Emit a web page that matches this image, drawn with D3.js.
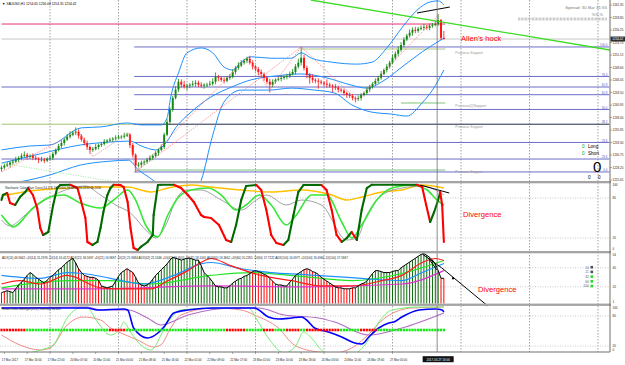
<!DOCTYPE html>
<html>
<head>
<meta charset="utf-8">
<script src="https://cdnjs.cloudflare.com/ajax/libs/d3/7.8.5/d3.min.js"></script>
<style>
body { margin: 0; background: #fff; }
svg { display: block; }
</style>
</head>
<body>
<script>
// ---- price data (XAUUSD H1) ----
var firstOpen = 1227.9;
var closes = [
  1228.2,1228.6,1228.8,1229.2,1229.4,1229.8,1230.2,1230.6,1230.8,1230.4,
  1230.6,1230.2,1230.0,1229.8,1229.8,1229.6,1230.0,1230.2,1231.0,1231.8,
  1232.6,1233.2,1233.9,1234.5,1234.9,1235.3,1235.5,1234.7,1233.9,1233.2,
  1232.4,1231.8,1232.0,1232.4,1232.8,1233.0,1233.5,1233.7,1233.9,1234.1,
  1234.3,1234.5,1234.5,1234.7,1234.9,1232.8,1230.8,1228.6,1228.8,1229.2,
  1229.4,1229.8,1230.2,1230.6,1231.2,1231.8,1232.4,1234.9,1237.5,1240.0,
  1242.4,1244.1,1245.7,1245.1,1244.7,1244.9,1245.1,1245.3,1245.5,1245.1,
  1244.9,1245.1,1245.1,1245.3,1245.7,1246.7,1246.5,1246.1,1245.9,1246.5,
  1246.7,1247.7,1248.5,1249.0,1249.6,1250.0,1250.4,1249.6,1248.8,1248.3,
  1247.7,1247.3,1246.5,1245.7,1245.1,1245.7,1246.1,1246.3,1246.5,1246.7,
  1246.9,1247.3,1247.7,1248.8,1249.6,1250.6,1248.5,1247.1,1246.5,1246.1,
  1245.9,1245.7,1245.5,1245.3,1245.1,1244.9,1244.7,1244.5,1244.1,1243.9,
  1243.4,1243.0,1242.8,1242.4,1242.2,1242.4,1243.0,1243.4,1244.1,1244.7,
  1245.3,1245.9,1246.5,1247.3,1248.1,1248.8,1249.6,1250.6,1251.4,1252.2,
  1253.2,1254.3,1255.1,1255.7,1256.3,1256.1,1256.5,1256.7,1256.9,1256.7,
  1257.1,1257.3,1257.5,1258.3,1254.65,1254.42
];
var wickUp = [
  .4,.3,.5,.3,.4,.6,.3,.5,.7,.4, .3,.5,.4,.3,.6,.4,.3,.5,.4,.3,
  .4,.6,.3,.5,.7,.4,.9,.5,.3,.4, .5,.3,.4,.6,.3,.4,.5,.3,.4,.3,
  .5,.4,.3,.6,.4,.3,.4,.3,.5,.4, .3,.4,.5,.3,.4,.3,.5,.4,.6,.5,
  .4,.7,.6,.5,.8,.4,.3,.6,.5,.4, .5,.3,.4,.6,.7,.9,.4,.3,.5,.4,
  .6,.5,.4,.7,.5,.4,.4,.6,.5,.3, .4,.5,.3,.4,.6,.5,.3,.4,.5,.3,
  .4,.5,.6,.5,.8,2.2,.6,.5,.4,.7, .3,.5,.4,.3,.9,.4,.3,.5,.4,.3,
  .4,.3,.5,.4,.3,.5,.4,.3,.5,.4, .3,.5,.4,.6,.3,.5,.4,.6,.5,.7,
  .6,.5,.4,.7,.5,.6,.4,.5,.6,.4, .5,.4,.6,1.2,.2,1.43
];
var wickDn = [
  .5,.4,.3,.6,.4,.3,.5,.4,.3,.6, .4,.5,.3,.7,.4,.5,.3,.4,.5,.3,
  .3,.4,.5,.3,.4,.3,.5,.6,.4,.5, .6,.8,.4,.3,.5,.4,.3,.4,.3,.5,
  .4,.3,.5,.4,.3,.6,.5,1.3,.4,.6, .5,.4,.3,.5,.4,.6,.3,.4,.3,.5,
  .4,.3,.5,.6,.4,.7,.5,.4,.6,.5, .4,.6,.5,.3,.4,.5,.7,.4,.5,.3,
  .4,.3,.5,.4,.3,.4,.5,.4,.6,.5, .7,.5,.6,.4,1.6,.5,.4,.3,.5,.4,
  .5,.4,.3,.5,.4,.6,.5,.7,1.2,.6, .5,1.4,.4,.5,.6,.4,1.1,.5,.6,.4,
  .5,.6,.4,.5,.7,.4,.5,.3,.4,.5, .4,.3,.5,.4,.3,.5,.4,.3,.4,.5,
  .4,.5,.3,.4,.6,.5,.4,.3,.5,.4, .5,.4,.3,.4,.45,.07
];

// Bollinger bands [bar, price]
var bbUpper = [[0,1231.8],[10,1232.6],[17,1232.8],[28,1236.3],[35,1236.5],[44,1237.3],[49,1236.9],[56,1236.9],[58,1238.3],[59.3,1242.6],[62,1247.5],[65,1251.6],[70,1252.6],[74,1251.6],[78,1248.7],[81,1248.1],[84,1249.7],[87.5,1250.8],[94.5,1250.5],[101.6,1250.5],[105,1251.6],[108.6,1250.5],[115.7,1249.7],[124.5,1249.3],[129.8,1249.7],[135,1252.6],[140.3,1256.7],[145.6,1260.3],[150.2,1262.0],[153,1262.2],[155,1261.4]];
var bbMiddle = [[0,1229.1],[13.6,1231.0],[27.6,1232.8],[38,1233.4],[45,1233.6],[49,1232.6],[54,1231.8],[57.6,1233.2],[61,1236.3],[66.4,1239.5],[73.4,1242.6],[80.5,1244.6],[87.5,1246.1],[96.3,1246.9],[105,1247.3],[113.9,1246.5],[122.7,1245.0],[128,1244.4],[133.3,1245.7],[140.3,1248.7],[147.4,1251.8],[155,1254.6]];
var bbLower = [[0,1224.6],[10,1225.7],[17,1226.7],[27.6,1228.7],[38,1229.5],[44.5,1229.7],[48,1227.7],[52,1226.1],[57.6,1223.6],[63,1221.6],[67,1222.0],[70,1225.6],[74,1234.8],[78,1241.6],[84,1244.0],[93.5,1244.0],[101.6,1244.4],[109.7,1244.0],[116.7,1243.4],[122.7,1241.0],[129.8,1239.5],[136.8,1239.1],[142,1238.7],[147.4,1241.4],[151,1244.0],[155,1248.1]];

// zigzag turning points [bar, price]
var zigzag = [[0,1227.3],[27,1235.7],[32,1230.4],[44.5,1235.3],[47,1227.3],[86.4,1250.8],[93.8,1244.0],[105,1252.8],[124.5,1242.0],[153.4,1259.5]];
var zigzagLong = [[47,1227.3],[105,1252.8]];
var greenDotted = [[0,1229.1],[47,1224.6]];

// levels
var fibPct = [100.0, 76.4, 61.8, 50.0, 38.2, 23.6, 0.0];
var fibRange = [1227.3, 1252.8];
var fibStartBar = 46.5;
var extraLevels = [1244.63, 1229.94];
var extraLabels = ["61.8", "23.6"];
var pinkLevel = 1257.48;
var bidPrice = 1254.42;
var oliveTop = [105, 155.5, 1252.38];
var greenLevels = [[140, 155.5, 1241.37], [47, 155.5, 1227.7]];
var supportTexts = ["Previous Support", "Previous(2)Support", "Previous Support", "Previous Support"];
var supportPrices = [1251.5, 1240.7, 1236.4, 1227.2];
var greenTrend = [[108.4, 1262.38], [213.2, 1252.18]];
var blackTrend = [[145.6, 1259.73], [157.1, 1260.95]];
var priceTicks = [1261.35,1258.80,1256.25,1253.70,1251.15,1248.60,1246.05,1243.50,1240.95,1238.40,1235.85,1233.30,1230.75,1228.20,1225.65];

// stochastic panel [bar, value]
var stochMain = [[0,77],[0.5,84.5],[2,87.5],[3,72.5],[4.8,69.5],[6.5,81.5],[8.3,89],[9.3,95],[11,84.5],[12.5,65],[13.6,35],[14.6,24.5],[16.4,29],[18.1,69.5],[19.5,95],[20.6,99.5],[24.1,100],[26.6,95],[27.6,80],[29.4,50],[30.1,14],[31.9,9.5],[33.6,14],[34.7,35],[35.7,59],[37.1,84.5],[38.2,95],[39.3,100],[41.7,99.5],[42.8,96.5],[44.2,74],[45.2,35],[46.3,5],[47.7,2],[48.8,6.5],[51.2,14],[53,24.5],[53.3,54.5],[54.8,99.5],[55.8,100],[60.4,100],[62.9,95],[65.3,84.5],[67.4,74],[69.9,54.5],[71,51.5],[73.4,50],[76.2,39.5],[78.7,17],[80.5,14],[82.2,39.5],[84,77],[85.7,98],[89.3,99.5],[91,92],[92.8,62],[94.5,24.5],[96.3,12.5],[98.8,9.5],[100.5,17],[102.3,54.5],[104,89],[105.8,99.5],[112.1,99.5],[113.9,92],[115.7,62],[117.4,24.5],[119.2,14],[121,20],[122.7,29],[124.5,17],[126.2,62],[128,95],[129.8,100],[145.6,100],[147.4,96.5],[148.8,69.5],[150.2,44],[151.6,59],[153,77],[153.7,89],[154.4,69.5],[155,14]];
var stochSlow = [[0,54.5],[3,39.5],[4,36.5],[11,65],[17,81.5],[21.7,84.5],[27.6,72.5],[34.7,65],[39.3,77],[44.2,92],[47,77],[50.5,39.5],[54.8,21.5],[58.3,54.5],[61.8,80],[66.4,92],[72.4,95],[77,84.5],[82.2,62],[85.7,69.5],[90.3,84.5],[94.5,69.5],[99.8,39.5],[103.3,54.5],[108.6,84.5],[113.9,84.5],[119.2,44],[122.7,20],[126.2,39.5],[131.5,77],[136.8,95],[143.8,99.5],[149.1,92],[152.6,77],[155,69.5]];
var stochGrey = [[0,47],[3,38],[8.3,54.5],[15.3,77],[22.4,92],[29.4,98],[34.7,84.5],[40,69.5],[45.2,57.5],[51.2,29],[54,20],[57.6,39.5],[61.1,77],[64.6,92],[69.9,92],[77,77],[84,62],[89.3,77],[92.8,84.5],[99.8,69.5],[105.1,77],[112.1,69.5],[121,17],[124.5,20],[128,54.5],[133.3,84.5],[140.3,95],[147.4,98],[155,84.5]];
var stochYellow = [[0,83],[10,90.5],[24,95],[34.7,96.5],[44.2,96.5],[52.3,89],[58.3,95],[66.4,99.5],[73.4,96.5],[84,92],[94.5,89],[105.1,92],[115.7,84.5],[121,77],[126.2,81.5],[133.3,89],[140.3,92],[147.4,99.5],[155,95]];
var stochDivergence = [[146.7, 99.5], [156.9, 87.5]];

// ADX histogram panel
var adx = [
  14,15,16,15,14,18,22,25,28,32, 35,33,30,28,26,24,27,30,32,35,
  38,40,43,46,48,50,45,39,35,32, 31,30,30,29,27,21,20,19,20,21,
  26,31,35,37,39,37,35,30,24,22, 21,22,24,28,32,35,38,41,44,48,
  51,50,49,48,49,50,50,49,48,48, 42,35,32,29,25,21,20,20,19,19,
  21,24,26,28,29,31,32,34,36,37, 36,35,33,32,29,26,23,22,22,21,
  21,25,28,32,34,36,38,39,38,36, 35,33,30,28,26,24,22,20,19,19,
  18,18,18,19,19,21,23,24,26,30, 34,37,37,36,35,35,35,36,37,37,
  40,42,44,46,48,50,52,54,55,53, 51,48,44,37,29,29
];
var adxRedRanges = [[0,1],[15,17],[27,35],[44,50],[88,95],[106,124],[154,155]];
var adxBlue = [[0,32],[6.5,30],[13.6,29],[23,35],[28.7,34],[38.2,29],[49.8,23],[60.4,32],[69.9,44],[73.4,45.5],[84,39],[94.5,35],[105,33],[115.7,31],[126.2,29],[140.3,26.5],[147.4,35],[155,44.5]];
var adxRed = [[0,23],[6.5,26.5],[13.6,23],[23,32],[34.7,19],[40.7,18],[52.3,18],[58.3,26.5],[65.3,37],[69.9,45.5],[73.4,49.7],[80.5,42],[91,32],[101.6,26.5],[112.1,21],[122.7,21],[133.3,26.5],[140.3,32],[147.4,45.5],[152,49.7],[155,47.6]];
var adxLime = [[0,19],[23,26.5],[38.2,26.5],[52.3,23],[73.4,32],[87.5,35],[105,31],[122.7,26.5],[140.3,34],[155,47.6]];
var adxMagenta = [[0,18],[34.7,18],[73.4,21],[105,20],[140.3,23],[155,37]];
var adxDivergence = [[147.4,54.5],[154.2,40],[170,1]];
var adxInner = [[149.6,50],[152.6,37.5]];
var adxDots = [[158.2,29],[170,1]];
var legendPeriods = ["14", "21", "42", "60", "100"];

// bottom oscillator panel
var oscBlue = [[0,96],[30.1,96],[33.6,92],[42.8,94],[44.2,92],[46.3,56],[51.2,36],[54.8,46],[56.9,58],[60.4,86],[65.3,92],[74.5,96],[88.6,96],[93.5,78],[97,74],[101.6,76],[105.1,78],[106.9,72],[109.7,56],[114.6,48],[119.2,38],[123.8,26],[126.2,24],[128.7,38],[132.2,56],[135.7,66],[137.5,68],[140.3,78],[146.3,92],[152,94],[154.4,92],[155,88]];
var oscPurple = [[0,96],[30.1,98],[34.7,92],[44.2,92],[51.2,76],[55.8,62],[65.3,82],[81.5,96],[90,96],[99.1,82],[111.1,76],[116.7,68],[128.7,42],[140.3,56],[155,86]];
var oscGreen = [[0,8],[4,2],[13.6,12],[18.1,22],[23,76],[27.6,96],[30.1,96],[33.6,68],[38.2,42],[41.7,56],[42.8,68],[45.2,48],[48.8,22],[52.3,12],[58.3,68],[62.9,92],[75.9,96],[86.4,96],[90,68],[93.5,36],[99.1,6],[103.3,22],[105.8,48],[108.6,36],[112.1,12],[116.7,0],[122.7,2],[127.3,22],[132.2,68],[136.8,92],[146.3,98],[155,98]];
var oscPink = [[0,42],[6.5,22],[13.6,12],[17.1,16],[23,62],[28.7,78],[34.7,72],[38.2,56],[43.5,42],[47.7,32],[53.3,18],[55.8,22],[59.3,56],[62.9,82],[74.5,96],[84,92],[88.6,82],[97,56],[102.6,22],[111.1,8],[116.7,6],[122.7,16],[127.3,36],[134.3,76],[143.8,96],[155,98]];
var oscDotLevel = 52;
var oscRedRanges = [[0,8],[38,43],[79,85],[92,95],[100,104],[107,118],[126,131]];

var timeLabels = ["17 Mar 2017","17 Mar 16:00","17 Mar 22:00","20 Mar 07:00","20 Mar 15:00","21 Mar 00:00","21 Mar 08:00","21 Mar 16:00","22 Mar 01:00","22 Mar 09:00","22 Mar 17:00","23 Mar 02:00","23 Mar 10:00","23 Mar 18:00","24 Mar 03:00","24 Mar 11:00","24 Mar 19:00","27 Mar 05:00"];
var cursorBar = 153;
var cursorLabel = "2017.03.27 16:00";
var gridBars = [17, 41, 65, 89, 113, 137, 161, 185, 209];

// ---- layout ----
var W = 625, H = 365, R = 610;
var FONT = "Liberation Sans, Arial, sans-serif";
var bull = "#128512", bear = "#ff1010";

var x = d3.scaleLinear().domain([0, 213]).range([1.5, 609.4]);
var yMain = d3.scaleLinear().domain([1225.66, 1262.38]).range([180, 0]);
var yStoch = d3.scaleLinear().domain([0, 100]).range([251.3, 184.7]);
var yAdx = d3.scaleLinear().domain([0, 54]).range([306, 254.4]);
var yOsc = d3.scaleLinear().domain([0, 100]).range([356, 306]);

var panels = { main: [0, 181], stoch: [183.3, 251], adx: [253.3, 303.6], osc: [305.9, 352] };

var svg = d3.select("body")
    .append("svg")
    .attr("width", W)
    .attr("height", H);

svg.append("rect").attr("width", W).attr("height", H).attr("fill", "#fff");

var defs = svg.append("defs");
Object.keys(panels).forEach(function (k) {
    defs.append("clipPath").attr("id", "clip-" + k)
        .append("rect")
        .attr("x", 0).attr("y", panels[k][0])
        .attr("width", R).attr("height", panels[k][1] - panels[k][0]);
});

function label(g, px, py, str, size, color, anchor) {
    return g.append("text")
        .attr("transform", `translate(${px},${py}) scale(${size / 10})`)
        .attr("font-size", 10)
        .attr("font-family", FONT)
        .attr("fill", color)
        .attr("text-anchor", anchor || "start")
        .text(str);
}

function pairLine(yScale, curve) {
    var l = d3.line().x(d => x(d[0])).y(d => yScale(d[1]));
    if (curve) l.curve(curve);
    return l;
}

function inRanges(i, ranges) {
    return ranges.some(r => i >= r[0] && i <= r[1]);
}

// vertical grid
svg.append("g").selectAll("line").data(gridBars).enter().append("line")
    .attr("x1", d => x(d)).attr("x2", d => x(d))
    .attr("y1", 0).attr("y2", 352)
    .attr("stroke", "#8c8c8c").attr("stroke-width", 0.8)
    .attr("stroke-dasharray", "1.5,1.5");

// ---- main panel ----
var main = svg.append("g").attr("clip-path", "url(#clip-main)");

function hLevel(g, p, b0, b1, color, w) {
    g.append("line")
        .attr("x1", x(b0)).attr("x2", x(b1))
        .attr("y1", yMain(p)).attr("y2", yMain(p))
        .attr("stroke", color).attr("stroke-width", w || 1);
}

hLevel(main, pinkLevel, 0, 155.5, "#e8307a", 1);
hLevel(main, bidPrice, 0, 213, "#b8b8b8", 0.8);
hLevel(main, fibRange[0] + 0.382 * (fibRange[1] - fibRange[0]), 0, fibStartBar, "#a8c070", 1);
extraLevels.forEach(p => hLevel(main, p, 0, 213, "#6c6cc8", 1));
hLevel(main, oliveTop[2], oliveTop[0], oliveTop[1], "#b0c880", 1);
greenLevels.forEach(l => hLevel(main, l[2], l[0], l[1], "#7cc47c", 1));
fibPct.forEach(function (pct) {
    var p = fibRange[0] + pct / 100 * (fibRange[1] - fibRange[0]);
    hLevel(main, p, fibStartBar, 213, pct === 38.2 ? "#242a48" : "#6c6cc8", 1);
});

// bollinger bands
[bbUpper, bbMiddle, bbLower].forEach(function (band) {
    main.append("path").datum(band)
        .attr("d", pairLine(yMain, d3.curveMonotoneX))
        .attr("fill", "none").attr("stroke", "#1e90ff").attr("stroke-width", 1);
});

main.append("path").datum(greenDotted)
    .attr("d", pairLine(yMain))
    .attr("fill", "none").attr("stroke", "#8ee88e").attr("stroke-width", 0.9)
    .attr("stroke-dasharray", "1,1.5");

// candles
var bars = closes.map(function (c, i) {
    var o = i === 0 ? firstOpen : closes[i - 1];
    return { i: i, o: o, c: c, h: Math.max(o, c) + wickUp[i], l: Math.min(o, c) - wickDn[i] };
});

main.append("g").selectAll("line").data(bars).enter().append("line")
    .attr("x1", d => x(d.i)).attr("x2", d => x(d.i))
    .attr("y1", d => yMain(d.h)).attr("y2", d => yMain(d.l))
    .attr("stroke", d => d.c >= d.o ? bull : bear)
    .attr("stroke-width", 0.8);

main.append("g").selectAll("rect").data(bars).enter().append("rect")
    .attr("x", d => x(d.i) - 0.95)
    .attr("width", 1.9)
    .attr("y", d => yMain(Math.max(d.o, d.c)))
    .attr("height", d => Math.max(0.8, Math.abs(yMain(d.o) - yMain(d.c))))
    .attr("fill", d => d.c >= d.o ? bull : bear);

[zigzag, zigzagLong].forEach(function (z) {
    main.append("path").datum(z)
        .attr("d", pairLine(yMain))
        .attr("fill", "none").attr("stroke", "#ff7070").attr("stroke-width", 0.8)
        .attr("stroke-dasharray", "1.2,1.2");
});

main.append("path").datum(greenTrend)
    .attr("d", pairLine(yMain))
    .attr("stroke", "#3ddc26").attr("stroke-width", 1.3).attr("fill", "none");
main.append("path").datum(blackTrend)
    .attr("d", pairLine(yMain))
    .attr("stroke", "#000").attr("stroke-width", 1).attr("fill", "none");

// fib labels
fibPct.forEach(function (pct) {
    var p = fibRange[0] + pct / 100 * (fibRange[1] - fibRange[0]);
    label(svg, 607.5, yMain(p) - 0.8, pct.toFixed(1), 3, "#5a5ab8", "end");
});
extraLevels.forEach(function (p, i) {
    label(svg, 607.5, yMain(p) - 0.8, extraLabels[i], 3, "#5a5ab8", "end");
});

supportTexts.forEach(function (t, i) {
    label(svg, x(159), yMain(supportPrices[i]) + 1, t, 3.6, "#9a9a9a");
});

label(svg, 2, 5, "\u25BC XAUUSD,H1  1254.65 1256.08 1254.35 1254.42", 3.3, "#000");
label(svg, 607, 8.5, "Spread: 30    Bar 31:55", 4.4, "#7a7a7a", "end");
label(svg, 603, 15.5, "%% %", 3.8, "#7a7a7a", "end");
svg.append("line")
    .attr("x1", 518).attr("x2", 607).attr("y1", 19).attr("y2", 19)
    .attr("stroke", "#b4b4b4").attr("stroke-width", 3)
    .attr("stroke-dasharray", "0.7,0.7");

label(svg, 461, 40.5, "Allen's hock", 7.6, "#ff0000");

label(svg, 582, 147.5, "0", 4.6, "#0a9a0a");
label(svg, 588, 147.5, "Long", 4.6, "#000");
label(svg, 582, 154.5, "0", 4.6, "#0a9a0a");
label(svg, 588, 154.5, "Short", 4.6, "#000");
label(svg, 593, 172, "0", 15, "#000");
label(svg, 588, 178.5, "0", 4.6, "#000");
label(svg, 598, 178.5, "0", 4.6, "#000");

// ---- stochastic panel ----
var st = svg.append("g").attr("clip-path", "url(#clip-stoch)");
[80, 20].forEach(v => st.append("line")
    .attr("x1", 0).attr("x2", R).attr("y1", yStoch(v)).attr("y2", yStoch(v))
    .attr("stroke", "#bdbdbd").attr("stroke-width", 0.8).attr("stroke-dasharray", "1,1.5"));

st.append("path").datum(stochYellow).attr("d", pairLine(yStoch, d3.curveMonotoneX))
    .attr("fill", "none").attr("stroke", "#ffc000").attr("stroke-width", 1.4);
st.append("path").datum(stochGrey).attr("d", pairLine(yStoch, d3.curveMonotoneX))
    .attr("fill", "none").attr("stroke", "#8a8a8a").attr("stroke-width", 0.8);
st.append("path").datum(stochSlow).attr("d", pairLine(yStoch, d3.curveMonotoneX))
    .attr("fill", "none").attr("stroke", "#35e835").attr("stroke-width", 1.6);

var kSegs = d3.pairs(stochMain);
var lastUp = true;
kSegs.forEach(function (s) {
    if (s[1][1] > s[0][1]) lastUp = true;
    else if (s[1][1] < s[0][1]) lastUp = false;
    st.append("line")
        .attr("x1", x(s[0][0])).attr("y1", yStoch(Math.min(100, s[0][1])))
        .attr("x2", x(s[1][0])).attr("y2", yStoch(Math.min(100, s[1][1])))
        .attr("stroke", lastUp ? "#006a00" : "#ff0000")
        .attr("stroke-width", 2.1).attr("stroke-linecap", "round");
});

st.append("path").datum(stochDivergence).attr("d", pairLine(yStoch))
    .attr("stroke", "#000").attr("stroke-width", 1).attr("fill", "none");

label(svg, 5, 189, "Stochastic Color Rain Cross(14,3,3) 100.0000 99.6935 96.2630 86.2630", 3, "#222");
label(svg, 463, 217, "Divergence", 7.6, "#ff0000");

// ---- ADX panel ----
var ad = svg.append("g").attr("clip-path", "url(#clip-adx)");
[40, 20].forEach(v => ad.append("line")
    .attr("x1", 0).attr("x2", R).attr("y1", yAdx(v)).attr("y2", yAdx(v))
    .attr("stroke", "#bdbdbd").attr("stroke-width", 0.8).attr("stroke-dasharray", "1,1.5"));

ad.append("g").selectAll("line").data(adx).enter().append("line")
    .attr("x1", (d, i) => x(i)).attr("x2", (d, i) => x(i))
    .attr("y1", yAdx(0)).attr("y2", d => yAdx(d))
    .attr("stroke", (d, i) => inRanges(i, adxRedRanges) ? "#ff0000" : "#0a6a0a")
    .attr("stroke-width", 1);

[[adxMagenta, "#e030d0"], [adxLime, "#22e622"], [adxBlue, "#1e90ff"], [adxRed, "#ff1a1a"]].forEach(function (s) {
    ad.append("path").datum(s[0]).attr("d", pairLine(yAdx, d3.curveMonotoneX))
        .attr("fill", "none").attr("stroke", s[1]).attr("stroke-width", 1.2);
});

ad.append("path").datum(adx.map((v, i) => [i, v]))
    .attr("d", pairLine(yAdx))
    .attr("fill", "none").attr("stroke", "#000").attr("stroke-width", 1);

svg.append("path").datum(adxDivergence).attr("d", pairLine(yAdx))
    .attr("fill", "none").attr("stroke", "#000").attr("stroke-width", 1);
svg.append("path").datum(adxInner).attr("d", pairLine(yAdx))
    .attr("fill", "none").attr("stroke", "#000").attr("stroke-width", 1);
svg.append("g").selectAll("rect").data(adxDots).enter().append("rect")
    .attr("x", d => x(d[0]) - 1).attr("y", d => yAdx(d[1]) - 1)
    .attr("width", 2).attr("height", 2).attr("fill", "#000");

label(svg, 2, 259, "ADX(14) 46.9642 +DI(14) 21.2976 -DI(14) 16.4172    ADX(21) 34.5697 +DI(21) 16.9697 -DI(21) 21.9684    ADX(42) 21.5346 +DI(42) 19.4505 -DI(42) 18.1005    ADX(60) 16.3662 +DI(60) 20.2355 -DI(60) 17.7222    ADX(100) 14.0977 +DI(100) 19.4960 -DI(100) 17.5967", 3, "#222");
label(svg, 478, 292, "Divergence", 7.6, "#ff0000");

legendPeriods.forEach(function (t, i) {
    var ly = 268.5 + i * 4.7;
    label(svg, 589, ly, t, 3.4, "#666", "end");
    svg.append("rect").attr("x", 590.5).attr("y", ly - 2.6)
        .attr("width", 2.6).attr("height", 2.6)
        .attr("fill", i < 2 ? "#505050" : "#22dd22");
});

// ---- oscillator panel ----
var os = svg.append("g").attr("clip-path", "url(#clip-osc)");
[80, 20].forEach(v => os.append("line")
    .attr("x1", 0).attr("x2", R).attr("y1", yOsc(v)).attr("y2", yOsc(v))
    .attr("stroke", "#bdbdbd").attr("stroke-width", 0.8).attr("stroke-dasharray", "1,1.5"));

[[oscPink, "#f28a8a", 1], [oscGreen, "#74ee74", 1], [oscPurple, "#b46cc8", 1.1], [oscBlue, "#0000ff", 1.6]].forEach(function (s) {
    os.append("path").datum(s[0]).attr("d", pairLine(yOsc, d3.curveMonotoneX))
        .attr("fill", "none").attr("stroke", s[1]).attr("stroke-width", s[2]);
});

os.append("g").selectAll("rect").data(closes).enter().append("rect")
    .attr("x", (d, i) => x(i) - 1.1).attr("y", yOsc(oscDotLevel) - 1.3)
    .attr("width", 2.2).attr("height", 2.6)
    .attr("fill", (d, i) => inRanges(i, oscRedRanges) ? "#ff0000" : "#18e818");

label(svg, 2, 310, "Relax Cross Bollinger(20,2)  Intensity 96.833", 3, "#222");

// cursor line
svg.append("line")
    .attr("x1", x(cursorBar) - 1).attr("x2", x(cursorBar) - 1)
    .attr("y1", 0).attr("y2", 352)
    .attr("stroke", "#707070").attr("stroke-width", 0.8);

// separators and frame
[181, 251, 303.6].forEach(y0 => svg.append("rect")
    .attr("x", 0).attr("y", y0).attr("width", R + 1).attr("height", 2.3)
    .attr("fill", "#a4a4a4"));
svg.append("line").attr("x1", R).attr("x2", R).attr("y1", 0).attr("y2", 352)
    .attr("stroke", "#6e6e6e").attr("stroke-width", 1);
svg.append("line").attr("x1", 0).attr("x2", R).attr("y1", 352).attr("y2", 352)
    .attr("stroke", "#6e6e6e").attr("stroke-width", 1);

// price axis
priceTicks.forEach(function (p) {
    svg.append("line").attr("x1", R).attr("x2", R + 2)
        .attr("y1", yMain(p)).attr("y2", yMain(p)).attr("stroke", "#6e6e6e").attr("stroke-width", 0.6);
    label(svg, 612.5, yMain(p) + 1.1, p.toFixed(2), 3, "#222");
});
svg.append("rect").attr("x", 610.5).attr("y", yMain(bidPrice) - 2.5)
    .attr("width", 14.5).attr("height", 5).attr("fill", "#2f2f2f");
label(svg, 612.3, yMain(bidPrice) + 1.1, bidPrice.toFixed(2), 3, "#fff");

// sub-panel axis labels, kept inside their own panel bands
[[yStoch, [100, 80, 20, 0], ["100", "80", "20", "0"], panels.stoch],
 [yAdx, [54, 40, 20, 1], ["54", "40", "20", "1"], panels.adx],
 [yOsc, [100, 80, 20, 0], ["100", "80", "20", "0"], panels.osc]].forEach(function (a) {
    a[1].forEach(function (v, i) {
        var yy = a[0](v) + 1.1;
        yy = Math.max(a[3][0] + 3, Math.min(a[3][1] - 0.8, yy));
        label(svg, 612.5, yy, a[2][i], 3, "#222");
    });
});

// time axis
timeLabels.forEach(function (t, k) {
    var bx = x(1 + 8 * k);
    svg.append("line").attr("x1", bx).attr("x2", bx).attr("y1", 352).attr("y2", 354)
        .attr("stroke", "#6e6e6e").attr("stroke-width", 0.6);
    label(svg, bx - 2.5, 360.5, t, 2.9, "#222");
});
svg.append("rect").attr("x", x(cursorBar) - 15.5).attr("y", 356.2)
    .attr("width", 31).attr("height", 6).attr("fill", "#111");
label(svg, x(cursorBar), 360.8, cursorLabel, 3, "#fff", "middle");
</script>
</body>
</html>
